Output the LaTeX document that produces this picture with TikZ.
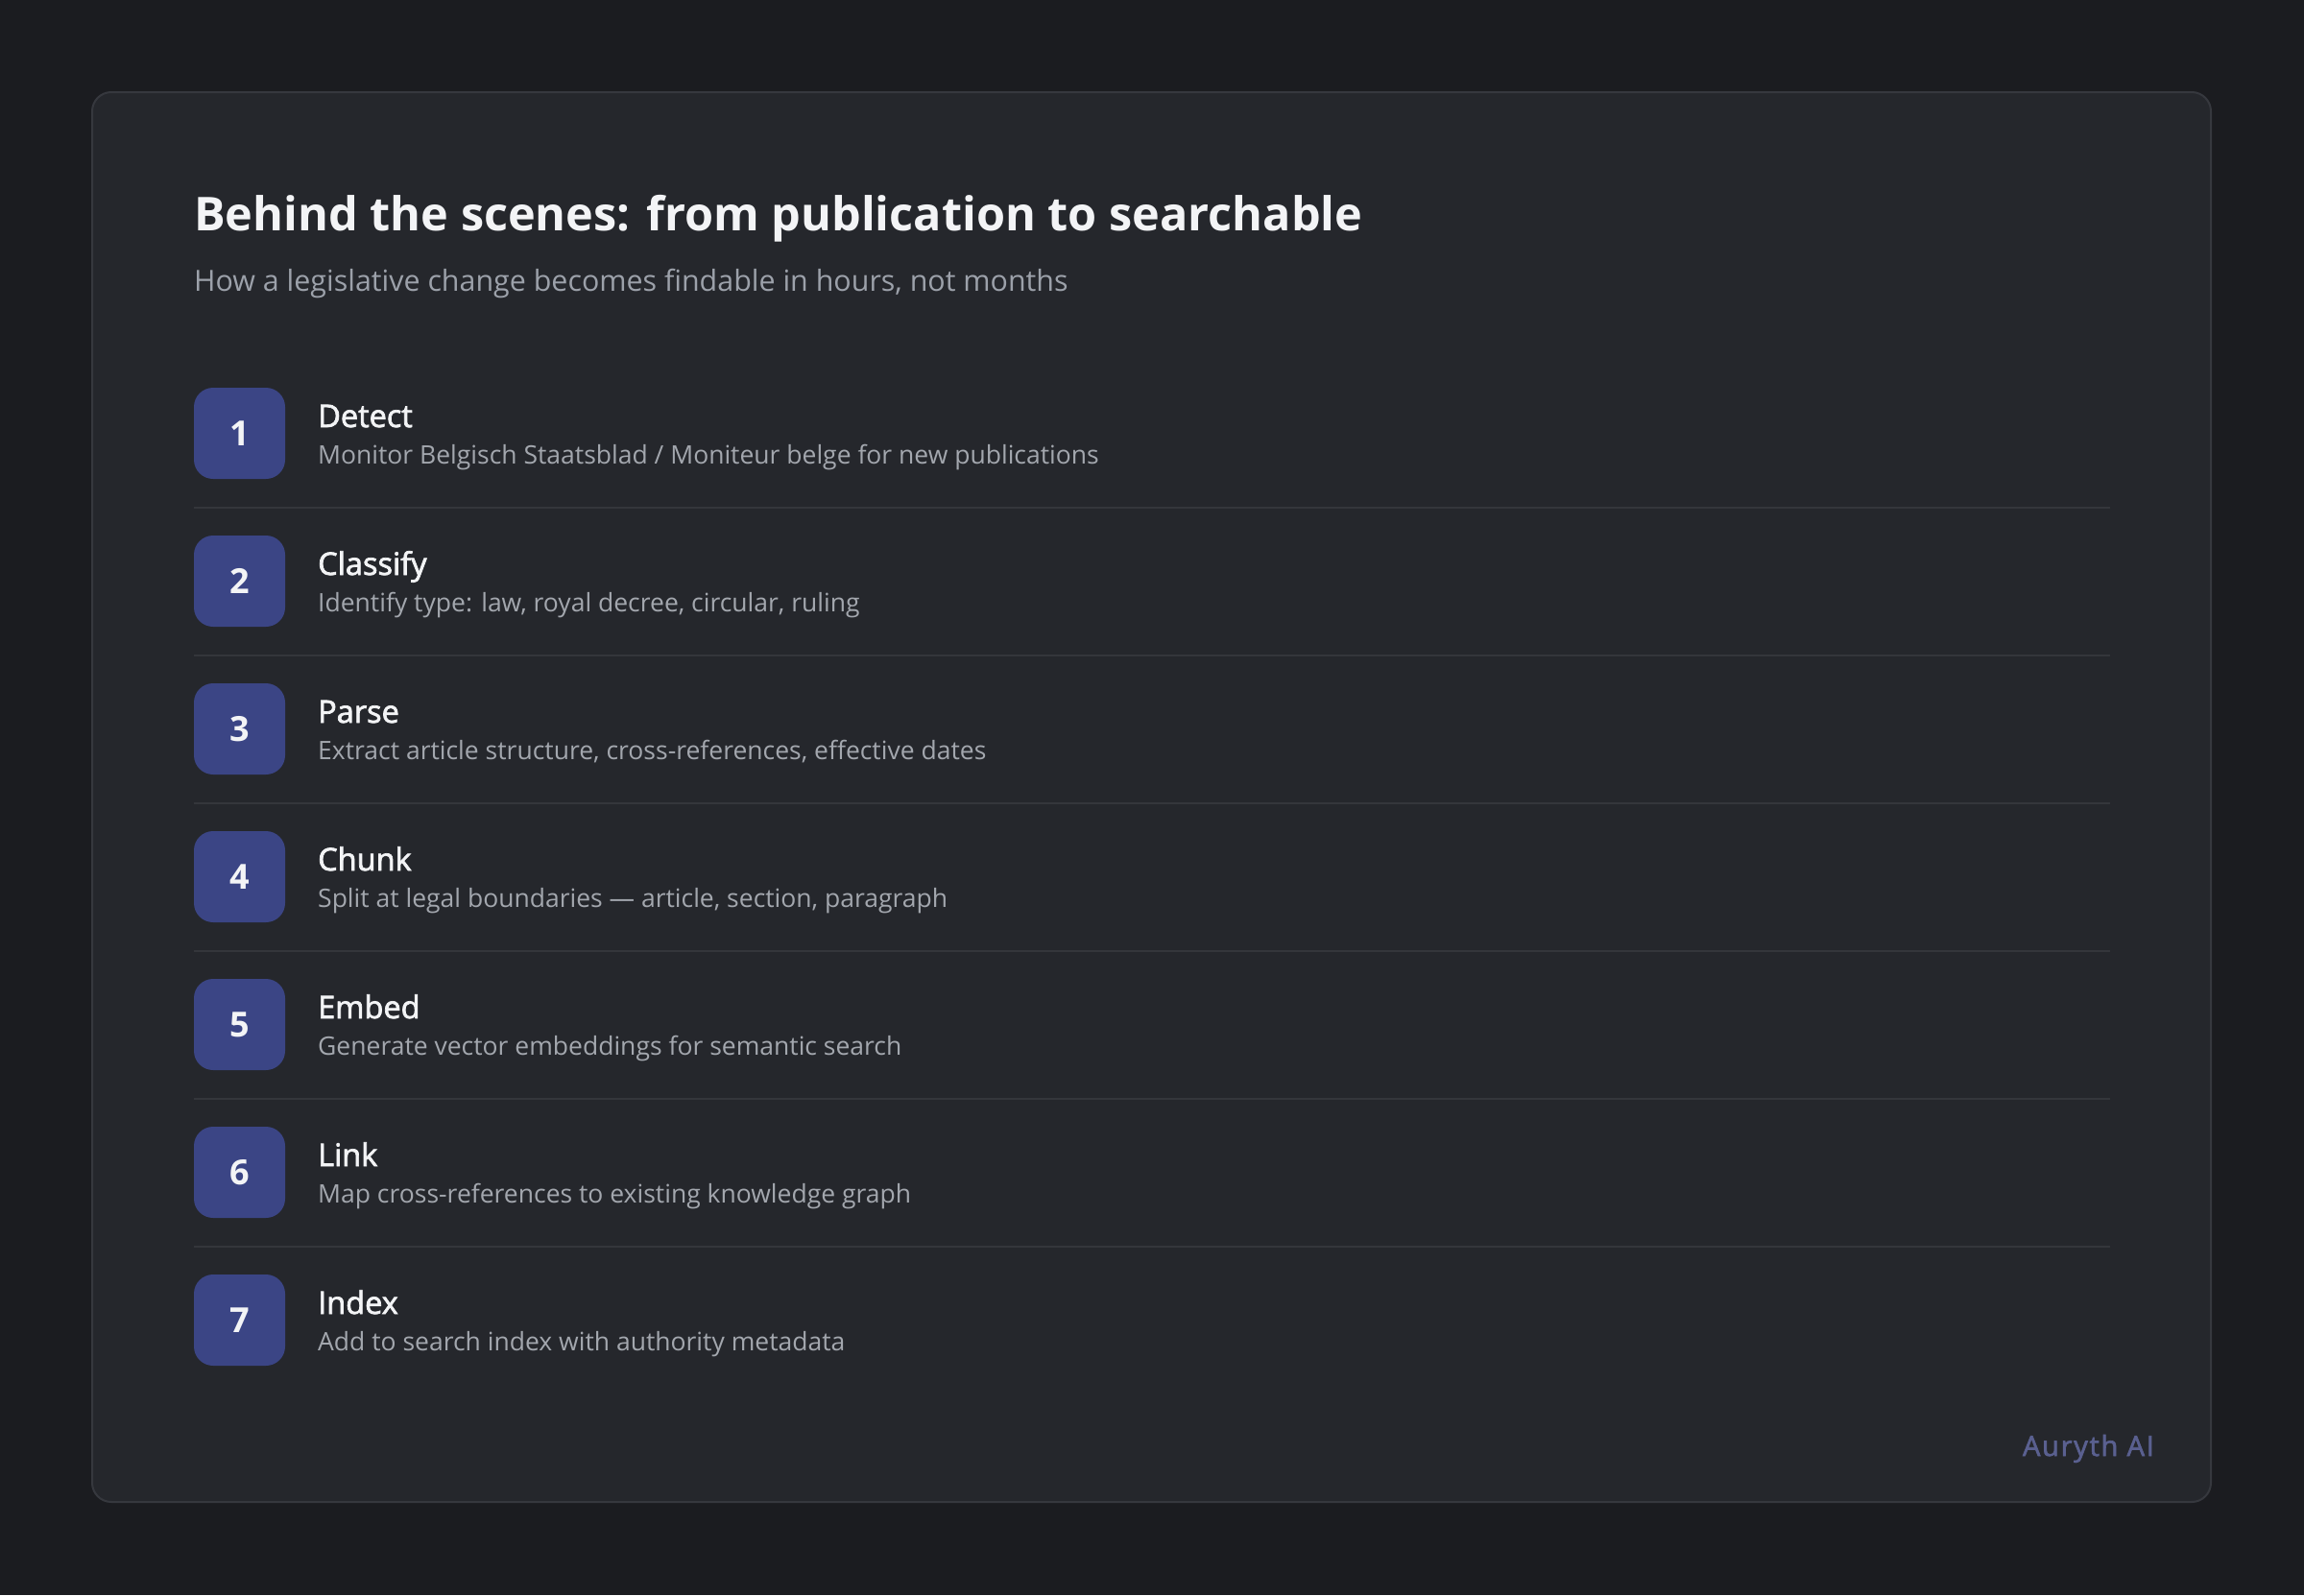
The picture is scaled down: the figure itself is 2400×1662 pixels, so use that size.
\documentclass[tikz,border=0pt]{standalone}
\usepackage{fontspec}
\setmainfont{Open Sans}
\newfontfamily\semib[FakeBold=2.2]{Open Sans}
\newfontfamily\brandfont[FakeBold=2.2,LetterSpace=6]{Open Sans}
\definecolor{bgc}{HTML}{1B1C20}
\definecolor{cardc}{HTML}{25272C}
\definecolor{cardline}{HTML}{36383E}
\definecolor{sepc}{HTML}{34363B}
\definecolor{badgec}{HTML}{3B4585}
\definecolor{whitec}{HTML}{F3F4F6}
\definecolor{subc}{HTML}{9CA1AA}
\definecolor{descc}{HTML}{A3A7AE}
\definecolor{brandc}{HTML}{5A6090}
\tikzset{
  badge/.style={fill=badgec, rounded corners=20pt, minimum width=95pt, minimum height=95pt, inner sep=0pt, text=whitec, font=\fontsize{36}{40}\selectfont\bfseries},
  steptitle/.style={anchor=base west, inner sep=0pt, text=whitec, font=\fontsize{32.5}{38}\selectfont\semib},
  stepdesc/.style={anchor=base west, inner sep=0pt, text=descc, font=\fontsize{26.5}{31}\selectfont},
  sepline/.style={draw=sepc, line width=2pt}
}
\begin{document}
\begin{tikzpicture}[x=1pt,y=-1pt]
\fill[bgc] (0,0) rectangle (2400,1662);
\useasboundingbox (0,0) rectangle (2400,1662);
\draw[fill=cardc, draw=cardline, line width=2pt, rounded corners=20pt] (96,96) rectangle (2303,1565);
\node[anchor=base west, inner sep=0pt, text=whitec, font=\fontsize{48.6}{56}\selectfont\bfseries] (title) at (202,240) {Behind the scenes: from publication to searchable};
\node[anchor=base west, inner sep=0pt, text=subc, font=\fontsize{30.4}{36}\selectfont] (subtitle) at (202,303) {How a legislative change becomes findable in hours, not months};
\foreach \k/\t/\d in {
  1/Detect/{Monitor Belgisch Staatsblad / Moniteur belge for new publications},
  2/Classify/{Identify type: law, royal decree, circular, ruling},
  3/Parse/{Extract article structure, cross-references, effective dates},
  4/Chunk/{Split at legal boundaries — article, section, paragraph},
  5/Embed/{Generate vector embeddings for semantic search},
  6/Link/{Map cross-references to existing knowledge graph},
  7/Index/{Add to search index with authority metadata}} {
  \pgfmathsetmacro{\T}{404+154*(\k-1)}
  \node[badge] (b\k) at (249.5,\T+47.5) {\k};
  \node[steptitle] (t\k) at (331,\T+41) {\t};
  \node[stepdesc] (d\k) at (331,\T+79) {\d};
}
\foreach \k in {1,...,6} {
  \pgfmathsetmacro{\Y}{529+154*(\k-1)}
  \coordinate (sl\k) at (202,\Y);
  \coordinate (sr\k) at (2198,\Y);
  \draw[sepline] (sl\k) -- (sr\k);
}
\node[anchor=base east, inner sep=0pt, text=brandc, font=\fontsize{29}{34}\selectfont\brandfont] (brand) at (2244,1517) {Auryth AI};
\end{tikzpicture}
\end{document}
